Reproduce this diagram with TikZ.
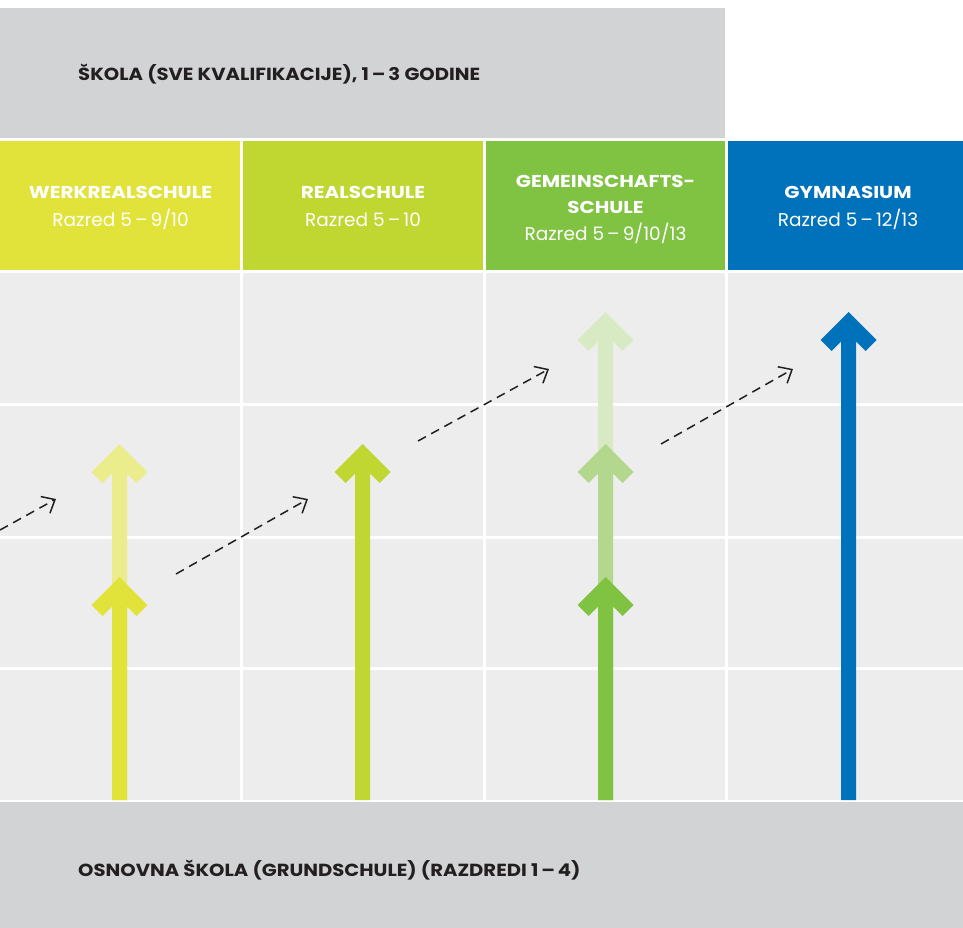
\documentclass[tikz,border=0pt]{standalone}
\usepackage{fontspec}
\setmainfont{Poppins}
\newfontfamily\bandfont[FakeStretch=1.12]{Poppins}
\newfontfamily\headfont[FakeStretch=1.16]{Poppins}
\usetikzlibrary{arrows.meta}
\definecolor{boxgray}{HTML}{D1D3D4}
\definecolor{gridbg}{HTML}{EDEDED}
\definecolor{txtdark}{HTML}{231F20}
\definecolor{cyellow}{HTML}{E1E33B}
\definecolor{cyellowl}{HTML}{EBEC8C}
\definecolor{clime}{HTML}{BFD730}
\definecolor{cgreen}{HTML}{80C242}
\definecolor{cgreenm}{HTML}{B3D88D}
\definecolor{cgreenl}{HTML}{D8EAC4}
\definecolor{cblue}{HTML}{0072BC}
\newcommand\uparr[3]{\fill[#1] (#2,#3) -- ++(28,28) -- ++(-11,11) -- ++(-9.5,-9.5) -- (#2+7.5,800) -- (#2-7.5,800) -- (#2-7.5,#3+29.5) -- (#2-17,#3+39) -- (#2-28,#3+28) -- cycle;}
\begin{document}
\begin{tikzpicture}[x=1pt,y=-1pt,
  bandtext/.style={anchor=base west, text=txtdark, font=\bandfont\fontsize{17.5}{20}\selectfont\bfseries, inner sep=0pt},
  colbox/.style={minimum height=129pt, inner sep=0pt},
  hname/.style={anchor=base, text=white, inner sep=0pt, font=\headfont\fontsize{17.2}{20}\selectfont\bfseries},
  hgrade/.style={anchor=base, text=white, inner sep=0pt, font=\fontsize{18.5}{20}\selectfont},
  gridline/.style={white, line width=3pt},
  hop/.style={txtdark, line width=1.5pt, dash pattern=on 9pt off 6pt, -{Straight Barb[length=11pt,width=19pt,line width=1.5pt]}}]
\useasboundingbox (0,0) rectangle (963,928);
% top band
\node[fill=boxgray, minimum width=725pt, minimum height=130pt, inner sep=0pt] (topband) at (362.5,73) {};
\node[bandtext] (toptext) at (78,81) {ŠKOLA (SVE KVALIFIKACIJE), 1\,–\,3 GODINE};
% column headers
\node[colbox, fill=cyellow, minimum width=240pt] (werk) at (120,205.5) {};
\node[colbox, fill=clime, minimum width=240pt] (real) at (363,205.5) {};
\node[colbox, fill=cgreen, minimum width=239pt] (gem) at (605.5,205.5) {};
\node[colbox, fill=cblue, minimum width=235pt] (gym) at (845.5,205.5) {};
\node[hname] (werkn) at (120.5,199) {WERKREALSCHULE};
\node[hgrade] (werkg) at (120.5,226) {Razred 5\,–\,9/10};
\node[hname] (realn) at (363,199) {REALSCHULE};
\node[hgrade] (realg) at (363,226) {Razred 5\,–\,10};
\node[hname] (gemn1) at (605.5,187) {GEMEINSCHAFTS-};
\node[hname] (gemn2) at (605.5,213) {SCHULE};
\node[hgrade] (gemg) at (605.5,240) {Razred 5\,–\,9/10/13};
\node[hname] (gymn) at (848,199) {GYMNASIUM};
\node[hgrade] (gymg) at (848,226) {Razred 5\,–\,12/13};
% grid
\fill[gridbg] (0,273) rectangle (963,800);
\foreach \gx in {241.5,484.5,726.5} \draw[gridline] (\gx,273) -- (\gx,800);
\foreach \gy in {404.5,537.5,668.5} \draw[gridline] (0,\gy) -- (963,\gy);
% bottom band
\node[fill=boxgray, minimum width=963pt, minimum height=126pt, inner sep=0pt] (botband) at (481.5,865) {};
\node[bandtext] (bottext) at (78,876) {OSNOVNA ŠKOLA (GRUNDSCHULE) (RAZDREDI 1\,–\,4)};
% arrows
\uparr{cyellowl}{119.5}{444}
\uparr{cyellow}{119.5}{577}
\uparr{clime}{362.5}{444}
\uparr{cgreenl}{605.5}{312}
\uparr{cgreenm}{605.5}{444}
\uparr{cgreen}{605.5}{577}
\uparr{cblue}{848.5}{312}
% dashed transitions
\coordinate (a1) at (0,530);
\coordinate (b1) at (56,499);
\coordinate (a2) at (176,574);
\coordinate (b2) at (308,499);
\coordinate (a3) at (418,441);
\coordinate (b3) at (549,369);
\coordinate (a4) at (661,444);
\coordinate (b4) at (793,369);
\draw[hop] (a1) -- (b1);
\draw[hop] (a2) -- (b2);
\draw[hop] (a3) -- (b3);
\draw[hop] (a4) -- (b4);
\end{tikzpicture}
\end{document}
